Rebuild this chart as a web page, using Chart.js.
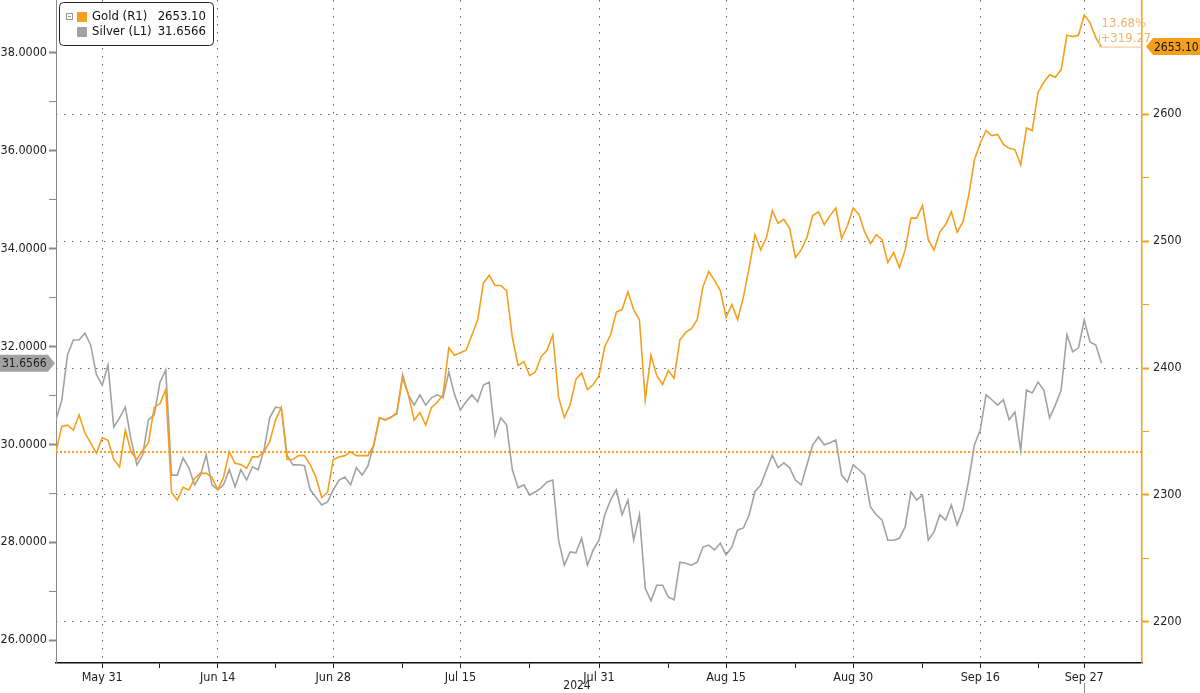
<!DOCTYPE html>
<html>
<head>
<meta charset="utf-8">
<script src="https://cdn.jsdelivr.net/npm/chart.js@4.4.1/dist/chart.umd.min.js"></script>
<style>
  html, body { margin: 0; padding: 0; background: #fff; }
  canvas { display: block; }
</style>
</head>
<body>
<canvas id="chart" width="1200" height="693"></canvas>
<script>
// x axis counts trading sessions from May 27 2024, data sampled every half session
const dateTicks = [4, 14, 24, 35, 47, 58, 69, 80, 89];
const dateLabels = ["May 31", "Jun 14", "Jun 28", "Jul 15", "Jul 31", "Aug 15", "Aug 30", "Sep 16", "Sep 27"];
const weekTicks = [9, 19, 30, 41, 53, 64, 75, 85];
const sampleStep = 0.5;

const silverTicks = [26, 27, 28, 29, 30, 31, 32, 33, 34, 35, 36, 37, 38];
const goldTicks = [2200, 2250, 2300, 2350, 2400, 2450, 2500, 2550, 2600];

const gold = [
  2334, 2354, 2355, 2351, 2363, 2349, 2341, 2333, 2345, 2343,
  2328, 2322, 2351, 2334, 2328, 2335, 2341, 2369, 2372, 2383,
  2302, 2296, 2306, 2304, 2313, 2317, 2317, 2314, 2304, 2314,
  2334, 2325, 2324, 2321, 2330, 2330, 2334, 2342, 2359, 2369,
  2328, 2328, 2331, 2331, 2324, 2314, 2298, 2302, 2328, 2330,
  2331, 2334, 2331, 2331, 2331, 2339, 2361, 2359, 2361, 2365,
  2392, 2379, 2359, 2365, 2355, 2369, 2373, 2379, 2416, 2410,
  2412, 2414, 2426, 2438, 2467, 2473, 2465, 2465, 2461, 2424,
  2402, 2405, 2394, 2397, 2409, 2414, 2426, 2377, 2361, 2371,
  2391, 2396, 2383, 2387, 2394, 2417, 2426, 2444, 2446, 2460,
  2446, 2438, 2375, 2410, 2394, 2387, 2398, 2392, 2422, 2428,
  2431, 2438, 2464, 2476, 2469, 2461, 2440, 2450, 2438, 2456,
  2479, 2505, 2493, 2503, 2524, 2514, 2517, 2510, 2487, 2493,
  2503, 2520, 2523, 2513, 2520, 2526, 2502, 2512, 2526, 2521,
  2507, 2498, 2505, 2501, 2483, 2491, 2479, 2493, 2518, 2518,
  2528, 2501, 2493, 2507, 2513, 2523, 2507, 2515, 2536, 2564,
  2577, 2587, 2583, 2584, 2576, 2573, 2572, 2560, 2589, 2587,
  2617, 2625, 2631, 2629, 2635, 2662, 2661, 2662, 2678, 2672,
  2660, 2653.10
];

const silver = [
  30.50, 30.90, 31.83, 32.13, 32.13, 32.27, 32.03, 31.42, 31.21, 31.62,
  30.35, 30.54, 30.76, 30.09, 29.58, 29.78, 30.50, 30.60, 31.27, 31.52,
  29.37, 29.37, 29.72, 29.52, 29.17, 29.37, 29.78, 29.17, 29.07, 29.17,
  29.48, 29.13, 29.48, 29.27, 29.54, 29.48, 29.88, 30.54, 30.76, 30.74,
  29.78, 29.58, 29.58, 29.56, 29.07, 28.92, 28.76, 28.82, 29.07, 29.27,
  29.33, 29.17, 29.52, 29.37, 29.56, 29.99, 30.54, 30.50, 30.56, 30.62,
  31.42, 31.01, 30.80, 31.01, 30.80, 30.95, 31.01, 30.95, 31.48, 31.01,
  30.70, 30.87, 31.01, 30.87, 31.21, 31.27, 30.19, 30.54, 30.40, 29.48,
  29.11, 29.17, 28.96, 29.03, 29.11, 29.23, 29.27, 28.04, 27.53, 27.80,
  27.78, 28.08, 27.53, 27.84, 28.04, 28.56, 28.86, 29.07, 28.56, 28.86,
  28.04, 28.56, 27.06, 26.80, 27.12, 27.12, 26.88, 26.82, 27.59, 27.57,
  27.53, 27.59, 27.90, 27.94, 27.84, 27.98, 27.74, 27.90, 28.25, 28.29,
  28.56, 29.03, 29.17, 29.48, 29.78, 29.52, 29.62, 29.52, 29.27, 29.17,
  29.58, 29.99, 30.15, 29.99, 30.03, 30.09, 29.37, 29.23, 29.58, 29.48,
  29.37, 28.72, 28.56, 28.45, 28.04, 28.04, 28.08, 28.31, 29.03, 28.86,
  28.96, 28.04, 28.21, 28.56, 28.45, 28.76, 28.35, 28.66, 29.27, 29.99,
  30.29, 31.01, 30.91, 30.80, 30.91, 30.50, 30.66, 29.88, 31.11, 31.05,
  31.27, 31.11, 30.54, 30.80, 31.11, 32.24, 31.89, 31.97, 32.54, 32.09,
  32.03, 31.6566
];

const goldBase = 2333.83;
const goldLast = 2653.10;
const silverLast = 31.6566;
const goldChangePct = "13.68%";
const goldChange = "+319.27";

const ORANGE = "#f5a01c";
const GRAY = "#a2a2a2";
const FONT = '"DejaVu Sans Condensed", "Liberation Sans", sans-serif';
Chart.defaults.font.family = FONT;
Chart.defaults.font.size = 12;

function tag(ctx, x0, x1, y, h, tipLeft, fill) {
  ctx.beginPath();
  if (tipLeft) {
    ctx.moveTo(x0, y); ctx.lineTo(x0 + 7, y - h / 2); ctx.lineTo(x1, y - h / 2);
    ctx.lineTo(x1, y + h / 2); ctx.lineTo(x0 + 7, y + h / 2);
  } else {
    ctx.moveTo(x0, y - h / 2); ctx.lineTo(x1 - 7, y - h / 2); ctx.lineTo(x1, y);
    ctx.lineTo(x1 - 7, y + h / 2); ctx.lineTo(x0, y + h / 2);
  }
  ctx.closePath();
  ctx.fillStyle = fill;
  ctx.fill();
}

const overlay = {
  id: "overlay",
  afterDraw(chart) {
    const { ctx, scales } = chart;
    const x = scales.x, yL = scales.yL, yR = scales.yR;
    ctx.save();
    ctx.font = "13px " + FONT;
    ctx.textBaseline = "middle";

    // legend
    ctx.beginPath();
    ctx.roundRect(59.5, 2.5, 154, 43, 4);
    ctx.fillStyle = "#fff";
    ctx.fill();
    ctx.strokeStyle = "#222";
    ctx.lineWidth = 1;
    ctx.stroke();
    ctx.strokeStyle = "#999";
    ctx.strokeRect(66.5, 13.5, 6, 6);
    ctx.beginPath();
    ctx.moveTo(68, 16.5); ctx.lineTo(71, 16.5);
    ctx.stroke();
    ctx.fillStyle = ORANGE;
    ctx.fillRect(77, 12, 10, 10);
    ctx.fillStyle = GRAY;
    ctx.fillRect(77, 27, 10, 10);
    ctx.fillStyle = "#111";
    ctx.textAlign = "left";
    ctx.fillText("Gold (R1)", 92, 17);
    ctx.fillText("Silver (L1)", 92, 32);
    ctx.textAlign = "right";
    ctx.fillText(goldLast.toFixed(2), 206, 17);
    ctx.fillText(silverLast.toFixed(4), 206, 32);

    // last value tags
    ctx.font = "12px " + FONT;
    const gy = yR.getPixelForValue(goldLast);
    tag(ctx, 1146, 1200, gy, 17, true, ORANGE);
    ctx.fillStyle = "#111";
    ctx.textAlign = "left";
    ctx.fillText(goldLast.toFixed(2), 1154, gy + 1);

    const sy = yL.getPixelForValue(silverLast);
    tag(ctx, 0, 55, sy, 17, false, GRAY);
    ctx.fillStyle = "#222";
    ctx.textAlign = "left";
    ctx.fillText(silverLast.toFixed(4), 2, sy + 1);

    // change annotation
    ctx.font = "13px " + FONT;
    const ax = x.getPixelForValue(gold.length * sampleStep - sampleStep) - 2;
    ctx.strokeStyle = "#f3c184";
    ctx.lineWidth = 1;
    ctx.beginPath();
    ctx.moveTo(ax, gy - 12); ctx.lineTo(ax, gy + 0.5); ctx.lineTo(x.right, gy + 0.5);
    ctx.stroke();
    ctx.fillStyle = "#f0b468";
    ctx.textAlign = "left";
    ctx.fillText(goldChangePct, ax + 2, gy - 23);
    ctx.fillText(goldChange, ax + 1, gy - 8);

    // year and today marker under the axis
    ctx.font = "12px " + FONT;
    ctx.fillStyle = "#222";
    ctx.textAlign = "center";
    ctx.fillText("2024", 577, 686);
    const tx = Math.round(x.getPixelForValue(89)) + 0.5;
    ctx.strokeStyle = "#888";
    ctx.beginPath();
    ctx.moveTo(tx, 683); ctx.lineTo(tx, 693);
    ctx.stroke();
    ctx.restore();
  }
};

const pts = arr => arr.map((v, i) => ({ x: i * sampleStep, y: v }));

new Chart(document.getElementById("chart"), {
  type: "line",
  data: {
    datasets: [
      {
        label: "Gold (R1)",
        data: pts(gold),
        yAxisID: "yR",
        borderColor: ORANGE,
        borderWidth: 1.6,
        pointRadius: 0,
        tension: 0
      },
      {
        label: "Silver (L1)",
        data: pts(silver),
        yAxisID: "yL",
        borderColor: GRAY,
        borderWidth: 1.6,
        pointRadius: 0,
        tension: 0
      },
      {
        label: "Gold start",
        data: [{ x: 0, y: goldBase }, { x: 94, y: goldBase }],
        yAxisID: "yR",
        borderColor: ORANGE,
        borderWidth: 2,
        borderDash: [2, 2],
        pointRadius: 0
      }
    ]
  },
  options: {
    responsive: false,
    animation: false,
    devicePixelRatio: 1,
    layout: { padding: 0 },
    plugins: { legend: { display: false }, tooltip: { enabled: false } },
    scales: {
      x: {
        type: "linear",
        min: 0,
        max: 94,
        afterBuildTicks: s => {
          s.ticks = dateTicks.concat(weekTicks).sort((a, b) => a - b).map(v => ({ value: v }));
        },
        afterFit: s => { s.height = 30; s.paddingLeft = 0; s.paddingRight = 0; },
        ticks: {
          autoSkip: false,
          maxRotation: 0,
          padding: 2,
          color: "#222",
          font: { size: 12.5 },
          callback: v => {
            const i = dateTicks.indexOf(v);
            return i < 0 ? "" : dateLabels[i];
          }
        },
        grid: {
          color: c => (c.tick && dateTicks.includes(c.tick.value)) ? "#666" : "rgba(0,0,0,0)",
          lineWidth: 1,
          tickLength: 5,
          tickColor: "#222",
          tickWidth: 1,
          borderDash: [1.5, 6.5]
        },
        border: { color: "#111", width: 1.5, dash: [1.5, 6.5] }
      },
      yL: {
        position: "left",
        min: 25.53,
        max: 39.08,
        afterBuildTicks: s => { s.ticks = silverTicks.map(v => ({ value: v })); },
        afterFit: s => { s.width = 56; s.paddingTop = 0; s.paddingBottom = 0; },
        ticks: {
          padding: 2,
          color: "#222",
          font: { size: 12.5 },
          callback: v => v % 2 === 0 ? v.toFixed(4) : ""
        },
        grid: {
          drawOnChartArea: false,
          tickLength: 7,
          tickColor: "#8a8a8a",
          tickWidth: c => (c.tick && c.tick.value % 2 === 0) ? 2 : 1
        },
        border: { color: "#8a8a8a", width: 1 }
      },
      yR: {
        position: "right",
        min: 2167.7,
        max: 2689.8,
        afterBuildTicks: s => { s.ticks = goldTicks.map(v => ({ value: v })); },
        afterFit: s => { s.width = 58; s.paddingTop = 0; s.paddingBottom = 0; },
        ticks: {
          padding: 4,
          color: "#222",
          font: { size: 12.5 },
          callback: v => v % 100 === 0 ? String(v) : ""
        },
        grid: {
          color: c => (c.tick && c.tick.value % 100 === 0) ? "#666" : "rgba(0,0,0,0)",
          lineWidth: 1,
          tickLength: 7,
          tickColor: ORANGE,
          tickWidth: c => (c.tick && c.tick.value % 100 === 0) ? 2 : 1,
          borderDash: [1.5, 6.5]
        },
        border: { color: ORANGE, width: 1.5, dash: [1.5, 6.5] }
      }
    }
  },
  plugins: [overlay]
});
</script>
</body>
</html>
